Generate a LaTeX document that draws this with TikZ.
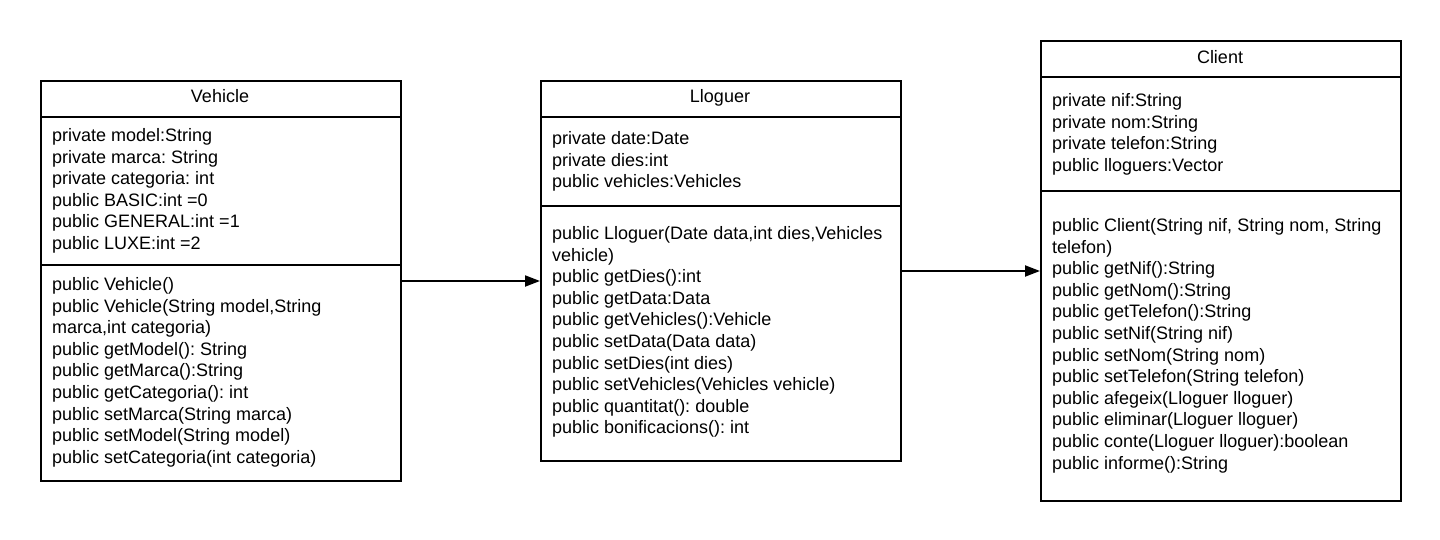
\documentclass[tikz,border=0pt]{standalone}
\usepackage{fontspec}
\setmainfont{Liberation Sans}
\usetikzlibrary{arrows.meta}
\frenchspacing
\begin{document}
\begin{tikzpicture}[x=1pt,y=-1pt,
  umlbox/.style={draw=black,line width=2pt,fill=white,inner sep=0pt,anchor=north west},
  divider/.style={draw=black,line width=2pt},
  txt/.style={inner sep=0pt,anchor=base west,font=\fontsize{18}{21.6}\selectfont\frenchspacing,text=black},
  ttl/.style={inner sep=0pt,anchor=base,font=\fontsize{18}{21.6}\selectfont\frenchspacing,text=black},
  conn/.style={draw=black,line width=2pt,-{Triangle[length=15pt,width=11pt]}}]
\useasboundingbox (0,0) rectangle (1440,540);
% Vehicle
\node[umlbox,minimum width=360pt,minimum height=400pt] (veh) at (40,80) {};
\draw[divider] (veh.west |- 0,117) -- (veh.east |- 0,117);
\draw[divider] (veh.west |- 0,265) -- (veh.east |- 0,265);
\node[ttl] (vt) at (220,103) {Vehicle};
\foreach \t [count=\i] in {private model:String,private marca: String,private categoria: int,public BASIC:int =0,public GENERAL:int =1,public LUXE:int =2}
  \node[txt] (va\i) at (52,{141.5+21.6*(\i-1)}) {\t};
\foreach \t [count=\i] in {public Vehicle(),{public Vehicle(String model,String},{marca,int categoria)},public getModel(): String,public getMarca():String,public getCategoria(): int,public setMarca(String marca),public setModel(String model),public setCategoria(int categoria)}
  \node[txt] (vm\i) at (52,{290.5+21.6*(\i-1)}) {\t};
% Lloguer
\node[umlbox,minimum width=360pt,minimum height=380pt] (llo) at (540,80) {};
\draw[divider] (llo.west |- 0,117) -- (llo.east |- 0,117);
\draw[divider] (llo.west |- 0,206) -- (llo.east |- 0,206);
\node[ttl] (lt) at (720,103) {Lloguer};
\foreach \t [count=\i] in {private date:Date,private dies:int,public vehicles:Vehicles}
  \node[txt] (la\i) at (552,{144.5+21.6*(\i-1)}) {\t};
\foreach \t [count=\i] in {{public Lloguer(Date data,int dies,Vehicles},vehicle),public getDies():int,public getData:Data,public getVehicles():Vehicle,public setData(Data data),public setDies(int dies),public setVehicles(Vehicles vehicle),public quantitat(): double,public bonificacions(): int}
  \node[txt] (lm\i) at (552,{239.5+21.6*(\i-1)}) {\t};
% Client
\node[umlbox,minimum width=360pt,minimum height=460pt] (cli) at (1040,40) {};
\draw[divider] (cli.west |- 0,77) -- (cli.east |- 0,77);
\draw[divider] (cli.west |- 0,191) -- (cli.east |- 0,191);
\node[ttl] (ct) at (1220,63.5) {Client};
\foreach \t [count=\i] in {private nif:String,private nom:String,private telefon:String,public lloguers:Vector}
  \node[txt] (ca\i) at (1052,{106.5+21.6*(\i-1)}) {\t};
\foreach \t [count=\i] in {{public Client(String nif, String nom, String},telefon),public getNif():String,public getNom():String,public getTelefon():String,public setNif(String nif),public setNom(String nom),public setTelefon(String telefon),public afegeix(Lloguer lloguer),public eliminar(Lloguer lloguer),public conte(Lloguer lloguer):boolean,public informe():String}
  \node[txt] (cm\i) at (1052,{231.5+21.6*(\i-1)}) {\t};
% connectors
\draw[conn] (veh.east) -- (veh.east -| llo.west);
\draw[conn] (llo.east) -- (cli.west);
\end{tikzpicture}
\end{document}
